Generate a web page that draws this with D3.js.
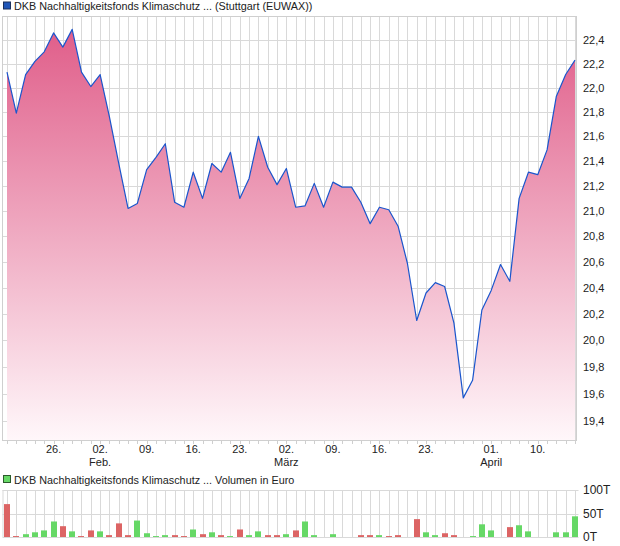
<!DOCTYPE html>
<html><head><meta charset="utf-8">
<script src="https://cdn.jsdelivr.net/npm/d3@7"></script>
<style>
html,body{margin:0;padding:0;background:#fff;}
svg{display:block;font-family:"Liberation Sans",Arial,sans-serif;}
</style></head>
<body>
<svg id="chart" width="620" height="546"></svg>
<script>
// ---- data ----
const titleMain = "DKB Nachhaltigkeitsfonds Klimaschutz ... (Stuttgart (EUWAX))";
const titleVolume = "DKB Nachhaltigkeitsfonds Klimaschutz ... Volumen in Euro";
const closes = [22.13,21.79,22.11,22.22,22.30,22.46,22.34,22.49,22.13,22.01,
                22.11,21.76,21.38,21.02,21.06,21.33,21.43,21.54,21.07,21.03,
                21.31,21.10,21.38,21.31,21.47,21.10,21.26,21.60,21.35,21.21,
                21.34,21.03,21.04,21.22,21.03,21.23,21.19,21.19,21.07,20.90,
                21.03,21.01,20.88,20.59,20.15,20.36,20.44,20.41,20.13,19.57,
                19.70,20.23,20.38,20.58,20.45,21.10,21.31,21.29,21.49,21.93,
                22.11,22.23];
// volume in thousand euro (T)
const volumes = [70,2,6,10,14,33,23,12,2,14,
                 12,4,29,4,35,8,2,4,4,2,
                 16,6,10,4,2,16,4,12,4,4,
                 6,14,33,4,0,6,0,0,4,4,
                 4,2,4,0,38,10,4,8,4,0,
                 2,27,14,0,21,25,12,0,0,10,
                 10,44];
const firstDayDown = true;
const yTicks = [19.4,19.6,19.8,20.0,20.2,20.4,20.6,20.8,21.0,21.2,21.4,21.6,21.8,22.0,22.2,22.4];
const xTickIdx = [5,10,15,20,25,30,35,40,45,52,57];
const xTickLabels = ["26.","02.","09.","16.","23.","02.","09.","16.","23.","01.","10."];
const monthIdx = [10,30,52];
const monthLabels = ["Feb.","März","April"];
const volTicks = [0,50,100];
const volTickLabels = ["0T","50T","100T"];

// ---- layout ----
const svg = d3.select("#chart");
const L = 2.5, R = 576.5, T = 16, B = 440;
const VT = 490, VB = 537;
const gridCol = "#d9d9d9", textCol = "#222";

const x = d3.scaleLinear().domain([0, closes.length - 1]).range([7, 575]);
const y = d3.scaleLog().domain([19.4, 22.4]).range([421, 40]);
const yv = d3.scaleLinear().domain([0, 100]).range([VB, VT]);

const defs = svg.append("defs");
const grad = defs.append("linearGradient").attr("id","fillGrad")
  .attr("gradientUnits","userSpaceOnUse").attr("x1",0).attr("x2",0).attr("y1",T).attr("y2",B);
grad.append("stop").attr("offset","0%").attr("stop-color","#df5986");
grad.append("stop").attr("offset","100%").attr("stop-color","#fff7fa");

// titles
function legend(yc, text, col, border){
  svg.append("rect").attr("x",3.5).attr("y",yc-4.5).attr("width",7).attr("height",7)
    .attr("fill",col).attr("stroke",border).attr("stroke-width",1);
  svg.append("text").attr("x",14).attr("y",yc).attr("dy","0.35em")
    .attr("font-size",10.8).attr("fill",textCol).text(text);
}
legend(6.5, titleMain, "#1f56b8", "#1a2f5a");
legend(480, titleVolume, "#66d866", "#2c5a2c");

// ---- main panel grid ----
const gMain = svg.append("g");
gMain.selectAll("line.vg").data(closes).join("line")
  .attr("x1",(d,i)=>Math.round(x(i))+0.5).attr("x2",(d,i)=>Math.round(x(i))+0.5)
  .attr("y1",T).attr("y2",B).attr("stroke",gridCol);
gMain.selectAll("line.hg").data(yTicks).join("line")
  .attr("x1",L).attr("x2",R)
  .attr("y1",d=>Math.round(y(d))+0.5).attr("y2",d=>Math.round(y(d))+0.5).attr("stroke",gridCol);

// area + line
const area = d3.area().x((d,i)=>x(i)).y0(B).y1(d=>y(d));
const line = d3.line().x((d,i)=>x(i)).y(d=>y(d));
gMain.append("path").datum(closes).attr("d",area).attr("fill","url(#fillGrad)");
gMain.append("path").datum(closes).attr("d",line).attr("fill","none")
  .attr("stroke","#1a55cc").attr("stroke-width",1.2).attr("stroke-linejoin","round");

// frame
gMain.append("rect").attr("x",L).attr("y",T+0.5).attr("width",R-L).attr("height",B-T)
  .attr("fill","none").attr("stroke","#cfcfcf");

// bottom small ticks
gMain.selectAll("line.xt").data(closes).join("line")
  .attr("x1",(d,i)=>Math.round(x(i))+0.5).attr("x2",(d,i)=>Math.round(x(i))+0.5)
  .attr("y1",B+1).attr("y2",B+4).attr("stroke","#cfcfcf");

// right axis labels
gMain.selectAll("text.yl").data(yTicks).join("text")
  .attr("x",583).attr("y",d=>y(d)).attr("dy","0.35em")
  .attr("font-size",11).attr("fill",textCol)
  .text(d=>d.toFixed(1).replace(".",","));

// x labels
gMain.selectAll("text.xl").data(xTickIdx).join("text")
  .attr("x",d=>x(d)).attr("y",449).attr("dy","0.35em").attr("text-anchor","middle")
  .attr("font-size",11).attr("fill",textCol).text((d,i)=>xTickLabels[i]);
gMain.selectAll("text.ml").data(monthIdx).join("text")
  .attr("x",d=>x(d)).attr("y",462).attr("dy","0.35em").attr("text-anchor","middle")
  .attr("font-size",11).attr("fill",textCol).text((d,i)=>monthLabels[i]);

// ---- volume panel ----
const gVol = svg.append("g");
gVol.selectAll("line.vg").data(closes).join("line")
  .attr("x1",(d,i)=>Math.round(x(i))+0.5).attr("x2",(d,i)=>Math.round(x(i))+0.5)
  .attr("y1",VT).attr("y2",VB).attr("stroke",gridCol);
gVol.selectAll("line.hg").data(volTicks).join("line")
  .attr("x1",L).attr("x2",R+2)
  .attr("y1",d=>Math.round(yv(d))+0.5).attr("y2",d=>Math.round(yv(d))+0.5).attr("stroke",gridCol);
gVol.append("line").attr("x1",L+0.5).attr("x2",L+0.5).attr("y1",VT).attr("y2",VB).attr("stroke",gridCol);

gVol.selectAll("rect.bar").data(volumes).join("rect")
  .attr("x",(d,i)=>Math.round(x(i))-3).attr("width",6)
  .attr("y",d=>yv(d)).attr("height",d=>yv(0)-yv(d))
  .attr("fill",(d,i)=>{
    const down = i===0 ? firstDayDown : closes[i] < closes[i-1];
    return down ? "#dc6464" : "#66d866";
  });

gVol.selectAll("text.vl").data(volTicks).join("text")
  .attr("x",583).attr("y",d=>yv(d)).attr("dy","0.35em")
  .attr("font-size",12).attr("fill",textCol).text((d,i)=>volTickLabels[i]);
</script>
</body></html>
